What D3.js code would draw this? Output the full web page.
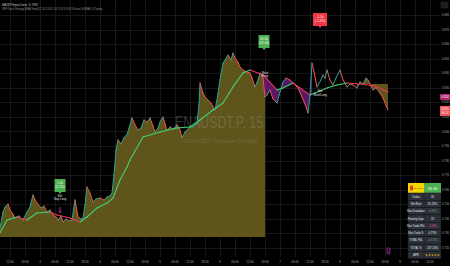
<!DOCTYPE html>
<html>
<head>
<meta charset="utf-8">
<script src="https://cdn.jsdelivr.net/npm/d3@7"></script>
<style>
  body { margin: 0; background: #000; }
  svg { display: block; font-family: "Liberation Sans", Arial, sans-serif; }
</style>
</head>
<body>
<svg id="chart" width="450" height="266"></svg>
<script>
// price path, [hours from day 3 00:00, close]
const priceBars = [
  [-16, .7337], [-14.8, .7447], [-14, .7482], [-12.8, .7502], [-12, .7461], [-10.8, .7433], [-10, .7406],
  [-8.4, .7420], [-6.8, .7392], [-5.2, .7447], [-4, .7482], [-2.8, .7564], [-2, .7530], [-1.2, .7509],
  [0.4, .7475], [1.6, .7488], [2.8, .7447], [4, .7461], [5.2, .7427], [6.4, .7413], [7.2, .7392],
  [8.4, .7420], [9.2, .7379], [10.4, .7399], [11.6, .7385], [12.8, .7392], [14, .7530], [15.2, .7413],
  [16.4, .7399], [17.2, .7406], [18, .7495], [18.8, .7619], [20, .7578], [21.2, .7516], [22.4, .7536],
  [24, .7543], [25.6, .7530], [26.8, .7550], [28, .7557], [28.8, .7578], [29.6, .7701], [30.4, .7873],
  [31.2, .7942], [32.4, .7914], [33.6, .7958], [34.8, .7979], [36, .8045], [36.8, .8093], [38, .8045],
  [39.2, .8010], [40.4, .8024], [41.6, .8079], [42.8, .8065], [44, .8093], [45.2, .8038], [46, .7997],
  [47.2, .8024], [48, .8065], [49.2, .8100], [50, .8052], [50.8, .8010], [52, .8031], [53.2, .8017],
  [54.8, .8045], [56, .8010], [56.8, .7958], [58, .7997], [59.2, .8017], [60, .8031], [61.6, .8038],
  [62.8, .8058], [63.6, .8182], [64, .8333], [65.2, .8264], [66, .8237], [67.2, .8216], [68.4, .8196],
  [70, .8148], [70.8, .8216], [71.2, .8264], [72, .8354], [73.2, .8470], [74, .8491], [75.2, .8525],
  [76.4, .8491], [77.2, .8539], [78, .8505], [79.2, .8477], [80, .8443], [81.2, .8422], [82.8, .8409],
  [84, .8402], [84.8, .8367], [86, .8306], [87.2, .8354], [88, .8402], [89.2, .8367], [90, .8237],
  [90.8, .8251], [92, .8285], [93.2, .8223], [94.8, .8196], [96, .8271], [97.2, .8340], [98.4, .8367],
  [100, .8354], [101.2, .8333], [102.8, .8306], [104, .8271], [104.8, .8237], [106, .8189], [107.2, .8127],
  [108, .8251], [108.8, .8470], [109.6, .8409], [110.8, .8306], [112, .8340], [113.2, .8388], [114, .8367],
  [114.8, .8422], [116, .8354], [117.2, .8319], [118.4, .8367], [120, .8422], [121.2, .8354], [122.8, .8306],
  [124, .8326], [125.2, .8319], [126.8, .8299], [128, .8340], [129.2, .8326], [130.4, .8367], [131.2, .8354],
  [132.4, .8312], [133.2, .8285], [134.4, .8299], [136, .8264], [137.2, .8230], [138, .8196], [139.2, .8148]
];

const emaPoints = [
  [-16, .7303], [-13.2, .7392], [-9.2, .7413], [-5.2, .7392], [-1.2, .7440], [4, .7447], [6.8, .7427],
  [12, .7406], [16, .7379], [18.8, .7413], [22.8, .7475], [26.8, .7509], [29.2, .7543], [32, .7667],
  [34.8, .7756], [36, .7804], [41.2, .7962], [48, .7997], [54.8, .8024], [60, .8031], [64, .8079],
  [69.2, .8148], [73.2, .8196], [77.2, .8306], [81.2, .8402], [84, .8422], [89.2, .8388], [94.8, .8285],
  [97.2, .8299], [101.2, .8333], [104, .8299], [108, .8251], [110, .8264], [114.8, .8299], [118.8, .8319],
  [122.8, .8333], [128, .8326], [134, .8312], [139.2, .8271]
];

const longZone = { from: -16, to: 90.6, level: .7276 };
const holdZone = { from: 126.4, to: 139.2, level: .8326 };
const shortZone = { from: 89.2, to: 108.8 };

const priceTicks = [.880, .870, .860, .850, .840, .830, .820, .810, .800, .790, .780, .770, .760, .750, .740, .730, .720];
const timeTicks = [-12, -6, 0, 6, 12, 18, 24, 30, 36, 42, 48, 54, 60, 66, 72, 78, 84, 90, 96, 102, 108, 114, 120, 126, 132, 138, 144, 150, 156];
const timeLabels = ["12:00", "18:00", "3", "06:00", "12:00", "18:00", "4", "06:00", "12:00", "18:00", "5", "06:00", "12:00", "18:00",
  "6", "06:00", "12:00", "18:00", "7", "06:00", "12:00", "18:00", "8", "06:00", "12:00", "18:00", "9", "06:00", "12:00"];

const tradeLabels = [
  { h: 8, p: .7571, kind: "win", lines: ["1.1k", "(1.2%)"] },
  { h: 89.6, p: .8560, kind: "win", lines: ["26.3k", "(12.45)"] },
  { h: 112, p: .8711, kind: "loss", lines: ["-1.1k", "(-1.2%)"] }
];
const signalNotes = [
  { h: 8, p: .7550, lines: ["Exit", "Stop Long"] },
  { h: 90, p: .8395, lines: ["Short", "Entry"] },
  { h: 112, p: .8270, lines: ["Exit", "Short/Long"] }
];

const tableLabels = ["Trades", "Win Rate", "Max Drawdown", "Running Days", "Max Trade P&L", "Max Trade %", "TOTAL P&L", "TOTAL %", "APR"];
const tableValues = ["31", "61.29%", "-6.48%", "22", "-1.25k", "4.73%", "+13.37k", "137.13%", "★★★★★"];
const tableTones = ["n", "n", "up", "n", "down", "n", "up", "n", "star"];

const lastPrice = .8148, emaTag = .8237;

const svg = d3.select("#chart");
const W = 440, H = 257;

const x = d3.scaleLinear().domain([-16, 160]).range([0, W]);
const y = d3.scaleLinear().domain([.720, .880]).range([248, 15]);

svg.append("rect").attr("width", 450).attr("height", 266).attr("fill", "#000");

// grid
const grid = svg.append("g").attr("stroke", "#171717").attr("stroke-width", 1);
grid.selectAll(".v").data(timeTicks).join("line")
  .attr("x1", d => Math.round(x(d)) + .5).attr("x2", d => Math.round(x(d)) + .5)
  .attr("y1", 0).attr("y2", H);
grid.selectAll(".h").data(priceTicks).join("line")
  .attr("y1", d => Math.round(y(d)) + .5).attr("y2", d => Math.round(y(d)) + .5)
  .attr("x1", 0).attr("x2", W);

// olive position fills
const inRange = z => priceBars.filter(d => d[0] >= z.from && d[0] <= z.to);
const zoneArea = lvl => d3.area().x(d => x(d[0])).y0(y(lvl)).y1(d => y(d[1]));
svg.append("path").datum(inRange(longZone)).attr("d", zoneArea(longZone.level))
  .attr("fill", "#5f5419");
svg.append("path").datum(inRange(holdZone)).attr("d", zoneArea(holdZone.level))
  .attr("fill", "#5f5419");

// purple fill between price and ema
const emaX = emaPoints.map(d => d[0]);
function emaAt(h) {
  const i = Math.max(1, Math.min(emaPoints.length - 1, d3.bisectLeft(emaX, h)));
  const a = emaPoints[i - 1], b = emaPoints[i];
  return a[1] + (b[1] - a[1]) * (h - a[0]) / (b[0] - a[0]);
}
svg.append("path").datum(inRange(shortZone))
  .attr("d", d3.area().x(d => x(d[0])).y0(d => y(emaAt(d[0]))).y1(d => y(d[1])))
  .attr("fill", "#7a1f86").attr("opacity", .75);

// watermark
svg.append("text").attr("x", 175).attr("y", 128).attr("textLength", 88).attr("lengthAdjust", "spacingAndGlyphs")
  .attr("font-size", 17).attr("fill", "#9a9a9a").attr("opacity", .32).text("ENAUSDT.P, 15");
svg.append("text").attr("x", 185).attr("y", 143).attr("textLength", 73).attr("lengthAdjust", "spacingAndGlyphs")
  .attr("font-size", 6).attr("fill", "#9a9a9a").attr("opacity", .32).text("ENAUSDT Perpetual Contract");

// price as up/down strokes
svg.append("g").selectAll("line").data(d3.pairs(priceBars)).join("line")
  .attr("x1", d => x(d[0][0])).attr("y1", d => y(d[0][1]))
  .attr("x2", d => x(d[1][0])).attr("y2", d => y(d[1][1]))
  .attr("stroke", d => d[1][1] >= d[0][1] ? "#26a69a" : "#ef5350")
  .attr("stroke-width", 1).attr("stroke-linecap", "round");

// ema, coloured by slope
svg.append("g").selectAll("line").data(d3.pairs(emaPoints)).join("line")
  .attr("x1", d => x(d[0][0])).attr("y1", d => y(d[0][1]))
  .attr("x2", d => x(d[1][0])).attr("y2", d => y(d[1][1]))
  .attr("stroke", d => d[1][1] >= d[0][1] ? "#3ed27a" : "#e8365c")
  .attr("stroke-width", 1.1).attr("stroke-linecap", "round");

// trade result tags
const tags = svg.append("g").selectAll("g").data(tradeLabels).join("g")
  .attr("transform", d => `translate(${x(d.h)},${y(d.p)})`);
tags.append("path")
  .attr("d", d => { const w = d.kind === "win" ? 5.5 : 7; return `M${-w},-15 H${w} V-2 H1.5 L0,0 L-1.5,-2 H${-w} Z`; })
  .attr("fill", d => d.kind === "win" ? "#4caf50" : "#f23645");
tags.selectAll("text").data(d => d.lines).join("text")
  .attr("y", (d, i) => -10 + i * 4.5).attr("text-anchor", "middle")
  .attr("font-size", 3.2).attr("fill", "#fff").text(d => d);

// small notes
const notes = svg.append("g").selectAll("g").data(signalNotes).join("g")
  .attr("transform", d => `translate(${x(d.h)},${y(d.p)})`);
notes.selectAll("text").data(d => d.lines).join("text")
  .attr("y", (d, i) => i * 3.4).attr("text-anchor", "middle")
  .attr("font-size", 2.8).attr("fill", "#e0e0e0").text(d => d);
svg.append("path").attr("d", `M${x(8)},${y(.7482)} V${y(.7445)} M${x(8) - 1.3},${y(.7455)} L${x(8)},${y(.7443)} L${x(8) + 1.3},${y(.7455)}`)
  .attr("stroke", "#c040d0").attr("stroke-width", .8).attr("fill", "none");

// price axis
svg.append("g").selectAll("text").data(priceTicks).join("text")
  .attr("x", 445.5).attr("y", d => y(d) + 1).attr("text-anchor", "middle")
  .attr("font-size", 3).attr("fill", "#a0a0a0").text(d => d.toFixed(3));
svg.append("rect").attr("x", 440).attr("y", y(emaTag) - 3).attr("width", 10).attr("height", 6).attr("fill", "#b0246e");
svg.append("text").attr("x", 445).attr("y", y(emaTag) + 1).attr("text-anchor", "middle")
  .attr("font-size", 3).attr("fill", "#fff").text(emaTag.toFixed(3));
svg.append("rect").attr("x", 440).attr("y", y(lastPrice) - 4).attr("width", 10).attr("height", 10).attr("fill", "#f0555a");
svg.append("text").attr("x", 445).attr("y", y(lastPrice)).attr("text-anchor", "middle")
  .attr("font-size", 3).attr("fill", "#fff").text(lastPrice.toFixed(3));
svg.append("text").attr("x", 445).attr("y", y(lastPrice) + 4).attr("text-anchor", "middle")
  .attr("font-size", 2.8).attr("fill", "#fff").text("06:12");
svg.append("rect").attr("x", 441).attr("y", 2).attr("width", 7).attr("height", 6).attr("rx", 1)
  .attr("fill", "#1c1c1c").attr("stroke", "#333").attr("stroke-width", .5);

// time axis
svg.append("g").selectAll("text").data(timeTicks).join("text")
  .attr("x", d => x(d)).attr("y", 263).attr("text-anchor", "middle")
  .attr("font-size", 3).attr("fill", "#a0a0a0").text((d, i) => timeLabels[i]);

// header texts
svg.append("text").attr("x", 2).attr("y", 5.5).attr("textLength", 36).attr("lengthAdjust", "spacingAndGlyphs")
  .attr("font-size", 3).attr("fill", "#d8d8d8").text("ENAUSDT Perpetual Contract · 15 · BYBIT");
svg.append("text").attr("x", 2).attr("y", 10).attr("textLength", 100).attr("lengthAdjust", "spacingAndGlyphs")
  .attr("font-size", 3).attr("fill", "#9a9a9a")
  .text("WVF Stoch Strategy [EMA Trend] 22 20 2 0.85 1.01 3 14 3 3 80 20 close 50 EMA 1.5 Trailing");

// stats table
const tx = 408, tw = 33, colW = 16, rowH = 7.3, ty = 183, headH = 10;
const table = svg.append("g");
table.append("rect").attr("x", tx).attr("y", ty).attr("width", colW).attr("height", headH).attr("fill", "#f2d600");
table.append("rect").attr("x", tx + colW).attr("y", ty).attr("width", tw - colW).attr("height", headH).attr("fill", "#4caf50");
table.append("rect").attr("x", tx + 2).attr("y", ty + 2.5).attr("width", 3).attr("height", 5).attr("rx", .8).attr("fill", "#e53935");
table.append("text").attr("x", tx + 10).attr("y", ty + 6).attr("text-anchor", "middle")
  .attr("font-size", 2.4).attr("fill", "#c62828").text("STRATEGY");
table.append("text").attr("x", tx + colW + (tw - colW) / 2).attr("y", ty + 6.6).attr("text-anchor", "middle")
  .attr("font-size", 4).attr("fill", "#fff").text("94.3k");
const rows = table.selectAll(".row").data(tableLabels).join("g")
  .attr("transform", (d, i) => `translate(${tx},${ty + headH + i * rowH})`);
rows.append("rect").attr("width", tw).attr("height", rowH).attr("fill", "#2c303a")
  .attr("stroke", "#141414").attr("stroke-width", .5);
rows.append("line").attr("x1", colW).attr("x2", colW).attr("y1", 0).attr("y2", rowH)
  .attr("stroke", "#141414").attr("stroke-width", .5);
rows.append("text").attr("x", colW / 2).attr("y", rowH / 2 + 1).attr("text-anchor", "middle")
  .attr("font-size", 2.6).attr("fill", "#e8e8e8").text(d => d);
const toneColor = { n: "#e8e8e8", up: "#4caf50", down: "#f0607a", star: "#f2c200" };
rows.append("text").attr("x", colW + (tw - colW) / 2).attr("y", rowH / 2 + 1).attr("text-anchor", "middle")
  .attr("font-size", 2.8).attr("fill", (d, i) => toneColor[tableTones[i]]).text((d, i) => tableValues[i]);

// small marker near time axis
svg.append("rect").attr("x", 387).attr("y", 248).attr("width", 3).attr("height", 6).attr("rx", .8)
  .attr("fill", "#2a0a2a").attr("stroke", "#c040c0").attr("stroke-width", .6);
</script>
</body>
</html>
